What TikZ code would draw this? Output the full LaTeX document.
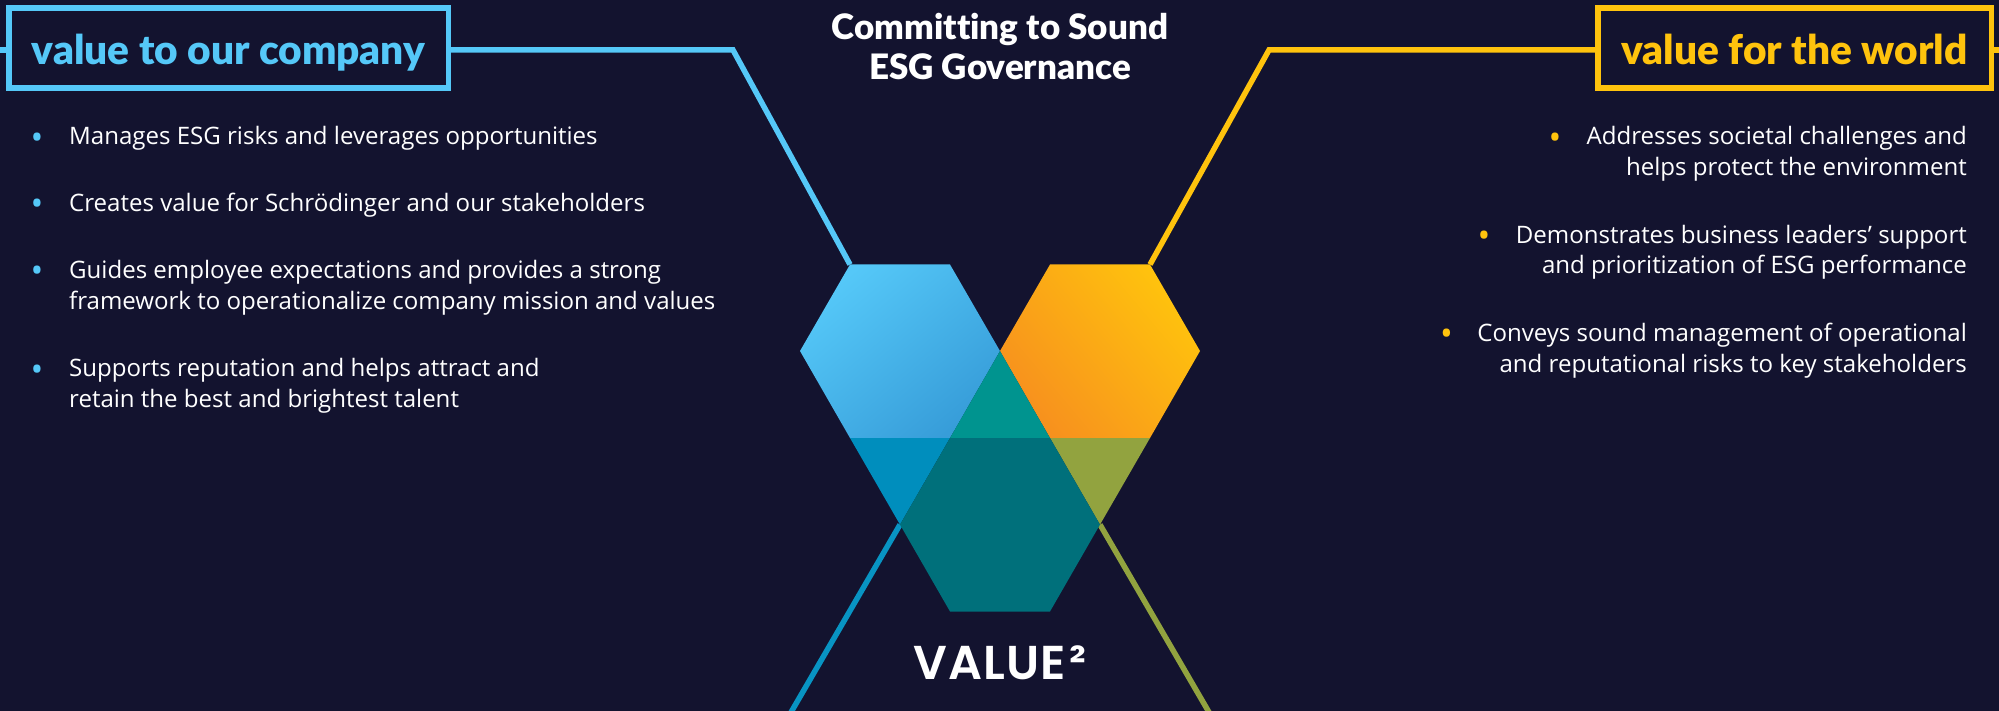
\documentclass[tikz,border=0pt]{standalone}
\usepackage{fontspec}
\setmainfont{Open Sans}
\newfontfamily\latofont[Ligatures=NoCommon]{Lato Black}
\newfontfamily\popfont[LetterSpace=2]{Poppins SemiBold}
\definecolor{bgc}{HTML}{13132F}
\definecolor{sky}{HTML}{55C8F8}
\definecolor{skyd}{HTML}{379DD9}
\definecolor{amber}{HTML}{FFC30D}
\definecolor{orng}{HTML}{F7901E}
\definecolor{teala}{HTML}{00948F}
\definecolor{tealb}{HTML}{00707B}
\definecolor{bluem}{HTML}{008EBD}
\definecolor{olive}{HTML}{92A33F}
\tikzset{
  wire/.style={line width=5.5pt,line join=miter},
  headbox/.style={draw,line width=5.5pt,inner sep=0pt,minimum height=80.2pt,text height=32.6pt,text depth=0pt,
    font=\latofont\fontsize{40.6}{40}\selectfont,align=center},
  body/.style={text=white,inner sep=0pt,font=\fontsize{24.05}{31}\selectfont},
  dotb/.style={inner sep=0pt,anchor=base,font=\fontsize{34}{34}\selectfont},
}
\begin{document}
\begin{tikzpicture}[x=1pt,y=-1pt]
\fill[bgc] (0,0) rectangle (1999,711);
\useasboundingbox (0,0) rectangle (1999,711);
% hexagon corners
\coordinate (lt1) at (850,264.5);
\coordinate (lt2) at (950,264.5);
\coordinate (mid) at (1000,351);
\coordinate (lb2) at (950,438);
\coordinate (lb1) at (850,438);
\coordinate (lw) at (800,351);
\coordinate (rt1) at (1050,264.5);
\coordinate (rt2) at (1150,264.5);
\coordinate (re) at (1200,351);
\coordinate (rb2) at (1150,438);
\coordinate (rb1) at (1050,438);
\coordinate (bl) at (900,524.6);
\coordinate (br) at (1100,524.6);
\coordinate (bb1) at (950,611.5);
\coordinate (bb2) at (1050,611.5);
\coordinate (endl) at (790,714);
\coordinate (endr) at (1210,714);
\coordinate (stubl) at (-3,50);
\coordinate (stubr) at (2002,50);
\coordinate (kneel) at (733,50);
\coordinate (kneer) at (1269,50);
% boxes
\node[headbox,draw=sky,text=sky,minimum width=439.5pt] (boxl) at (228.5,47.9) {value to our company};
\node[headbox,draw=amber,text=amber,minimum width=393.5pt] (boxr) at (1794.5,47.9) {value for the world};
% connectors
\draw[wire,sky] (boxl.east |- kneel) -- (kneel) -- (lt1);
\draw[wire,sky] (stubl) -- (boxl.west |- stubl);
\draw[wire,amber] (boxr.west |- kneer) -- (kneer) -- (rt2);
\draw[wire,amber] (boxr.east |- stubr) -- (stubr);
\draw[wire,bluem!90!sky] (bl) -- (endl);
\draw[wire,olive] (br) -- (endr);
% hexagons
\shade[left color=sky,right color=skyd,shading angle=40] (lt1) -- (lt2) -- (mid) -- (lb2) -- (lb1) -- (lw) -- cycle;
\shade[left color=amber,right color=orng,shading angle=-50] (rt1) -- (rt2) -- (re) -- (rb2) -- (rb1) -- (mid) -- cycle;
\fill[teala] (mid) -- (lb2) -- (rb1) -- cycle;
\fill[bluem] (lb1) -- (lb2) -- (bl) -- cycle;
\fill[olive] (rb1) -- (rb2) -- (br) -- cycle;
\fill[tealb] (lb2) -- (rb1) -- (br) -- (bb2) -- (bb1) -- (bl) -- cycle;
% title
\node[text=white,inner sep=0pt,align=center,anchor=base,font=\latofont\fontsize{35}{40}\selectfont] (title) at (1000,80) {Committing to Sound\\ESG Governance};
\node[text=white,inner sep=0pt,anchor=base,font=\popfont\fontsize{47.5}{47.5}\selectfont] (val) at (1000,679) {VALUE\kern4pt²};
% left list
\node[dotb,text=sky] (ld1) at (37,150) {•};
\node[dotb,text=sky] (ld2) at (37,216) {•};
\node[dotb,text=sky] (ld3) at (37,283) {•};
\node[dotb,text=sky] (ld4) at (37,381) {•};
\node[body,anchor=base west] (lt1n) at (69,145) {Manages ESG risks and leverages opportunities};
\node[body,anchor=base west] (lt2n) at (69,212) {Creates value for Schrödinger and our stakeholders};
\node[body,anchor=base west,align=left] (lt3n) at (69,309.5) {Guides employee expectations and provides a strong\\framework to operationalize company mission and values};
\node[body,anchor=base west,align=left] (lt4n) at (69,407.5) {Supports reputation and helps attract and\\retain the best and brightest talent};
% right list
\node[dotb,text=amber] (rd1) at (1555,150) {•};
\node[dotb,text=amber] (rd2) at (1484,247.5) {•};
\node[dotb,text=amber] (rd3) at (1446.5,345.5) {•};
\node[body,anchor=base east,align=right] (rt1n) at (1967,176) {Addresses societal challenges and\\helps protect the environment};
\node[body,anchor=base east,align=right] (rt2n) at (1967,274) {Demonstrates business leaders’ support\\and prioritization of ESG performance};
\node[body,anchor=base east,align=right] (rt3n) at (1967,372.5) {Conveys sound management of operational\\and reputational risks to key stakeholders};
\end{tikzpicture}
\end{document}
